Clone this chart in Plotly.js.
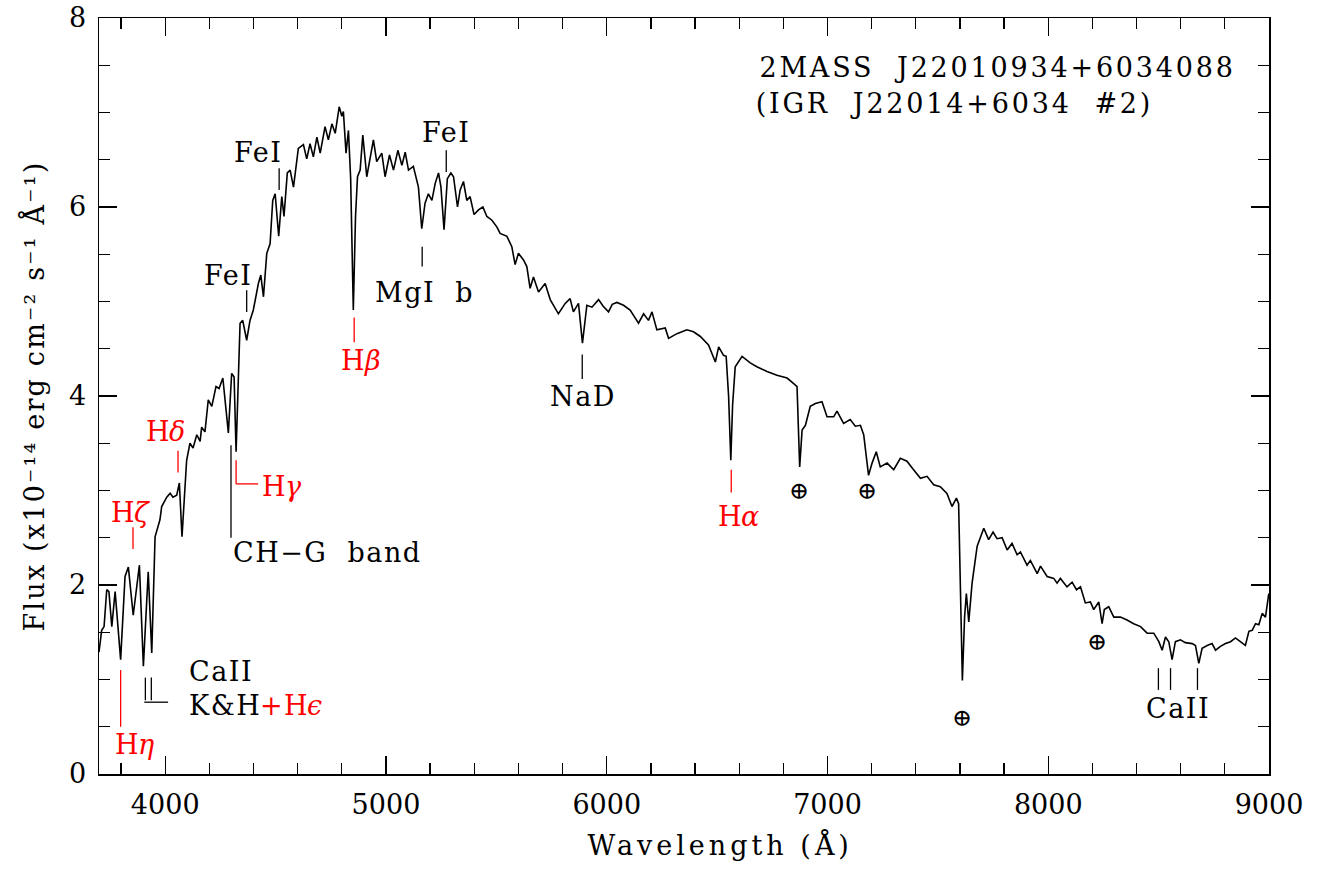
<!DOCTYPE html>
<html>
<head>
<meta charset="utf-8">
<script src="https://cdn.plot.ly/plotly-3.0.1.min.js"></script>
<style>
html,body{margin:0;padding:0;background:#fff;}
text.annotation-text{letter-spacing:1.5px;}
g.annotation[data-index="0"] text.annotation-text,
g.annotation[data-index="1"] text.annotation-text{letter-spacing:2.8px;}
g.annotation[data-index="2"] text.annotation-text{letter-spacing:4px;}
.g-ytitle text{letter-spacing:2.2px;}
</style>
</head>
<body>
<div id="chart" style="width:1322px;height:869px;"></div>
<script>
// Spectrum (wavelength in Å, flux in 1e-14 erg cm^-2 s^-1 Å^-1)
const wavelength = [
3700,3712,3723,3735,3745,3758,3773,3798,3818,3833,3855,3883,3901,3923,3939,3954,3976,3984,4007,4022,
4035,4052,4064,4076,4097,4112,4126,4143,4158,4165,4180,4195,4211,4230,4244,4261,4286,4301,4312,4321,
4339,4351,4369,4384,4399,4422,4433,4445,4460,4475,4487,4498,4514,4528,4538,4553,4566,4581,4603,4626,
4641,4656,4671,4687,4702,4724,4739,4755,4770,4788,4800,4807,4819,4830,4840,4852,4862,4871,4883,4895,
4913,4928,4943,4958,4981,4996,5016,5034,5054,5072,5087,5102,5124,5147,5162,5177,5192,5208,5223,5238,
5249,5263,5278,5294,5306,5324,5336,5351,5366,5381,5399,5419,5439,5457,5480,5502,5517,5548,5570,5585,
5600,5623,5638,5653,5668,5691,5721,5744,5781,5812,5834,5849,5872,5890,5910,5933,5963,5984,6008,6025,
6046,6076,6106,6144,6167,6189,6205,6227,6265,6280,6318,6363,6393,6424,6461,6492,6507,6529,6541,6552,
6562,6570,6582,6613,6650,6680,6726,6771,6817,6847,6862,6874,6885,6900,6922,6945,6975,6998,7028,7043,
7073,7103,7126,7149,7164,7186,7202,7221,7239,7270,7300,7330,7360,7390,7421,7451,7481,7511,7541,7564,
7584,7594,7611,7621,7629,7640,7655,7678,7708,7730,7750,7768,7791,7814,7836,7859,7874,7904,7919,7950,
7965,7995,8025,8040,8055,8085,8108,8128,8146,8168,8191,8206,8229,8244,8254,8274,8297,8327,8357,8387,
8418,8448,8478,8501,8516,8531,8546,8561,8576,8599,8621,8652,8667,8682,8697,8720,8742,8758,8780,8803,
8826,8848,8871,8893,8909,8924,8939,8954,8969,8984,8999
];
const flux = [
1.29,1.52,1.56,1.95,1.93,1.56,1.93,1.21,2.09,2.19,1.68,2.21,1.14,2.14,1.28,2.51,2.69,2.83,2.93,2.97,
2.93,2.95,3.08,2.51,3.32,3.50,3.45,3.59,3.52,3.67,3.62,3.96,3.89,4.10,4.08,4.19,3.61,4.24,4.20,3.41,
4.77,4.80,4.59,4.80,4.91,5.19,5.28,5.05,5.51,5.61,6.07,6.14,5.69,6.11,5.90,6.36,6.39,6.21,6.62,6.66,
6.51,6.67,6.53,6.74,6.57,6.85,6.71,6.88,6.78,7.06,6.96,7.01,6.57,6.81,6.30,4.91,5.90,6.32,6.39,6.76,
6.32,6.53,6.71,6.48,6.57,6.32,6.55,6.39,6.60,6.44,6.58,6.39,6.43,6.21,5.77,6.04,6.14,6.07,6.25,6.36,
6.21,5.76,6.30,6.36,6.32,6.00,6.18,6.27,6.07,6.11,5.92,5.97,6.00,5.90,5.86,5.79,5.72,5.69,5.58,5.39,
5.51,5.44,5.37,5.14,5.26,5.10,5.19,5.02,4.87,4.98,5.03,4.89,4.98,4.56,4.96,4.94,5.02,4.95,4.89,4.97,
4.99,4.96,4.91,4.77,4.87,4.80,4.89,4.70,4.72,4.61,4.66,4.70,4.68,4.63,4.54,4.36,4.52,4.43,4.42,4.00,
3.32,3.90,4.31,4.42,4.35,4.31,4.26,4.22,4.19,4.13,4.10,3.25,3.64,3.69,3.89,3.92,3.94,3.78,3.78,3.84,
3.71,3.75,3.68,3.69,3.59,3.16,3.29,3.41,3.25,3.29,3.22,3.34,3.31,3.22,3.13,3.15,3.06,3.04,2.97,2.83,
2.92,2.86,0.99,1.66,1.91,1.61,2.02,2.41,2.60,2.48,2.56,2.49,2.50,2.37,2.44,2.32,2.35,2.21,2.26,2.12,
2.20,2.09,2.07,2.02,2.07,1.98,2.03,1.95,1.98,1.81,1.82,1.74,1.82,1.59,1.74,1.77,1.66,1.66,1.63,1.59,
1.56,1.49,1.49,1.40,1.31,1.45,1.40,1.21,1.40,1.42,1.39,1.38,1.36,1.17,1.33,1.36,1.38,1.31,1.35,1.38,
1.40,1.44,1.40,1.36,1.51,1.52,1.59,1.58,1.70,1.66,1.91
];
const xTickVals = [4000,5000,6000,7000,8000,9000];
const xTickText = ["4000","5000","6000","7000","8000","9000"];
const yTickVals = [0,2,4,6,8];
const yTickText = ["0","2","4","6","8"];

const FONT = "DejaVu Serif";
const RED = "#ff0000";
const FS = 27;

function ann(x, y, text, color, xanchor, size, italic, xshift) {
  return {x: x, y: y, xref: 'x', yref: 'y', text: text, showarrow: false,
    xanchor: xanchor || 'center', yanchor: 'middle', borderpad: 0, xshift: xshift || 0,
    font: {family: FONT, size: size || FS, color: color || '#000', style: italic ? 'italic' : 'normal'}};
}
// "H" upright + Greek letter italic, joined at wavelength x
function hline(x, y, greek) {
  return [ann(x, y, 'H', RED, 'right', FS, false, 1), ann(x, y, greek, RED, 'left', FS, true, -3)];
}
function seg(x0, y0, x1, y1, color) {
  return {type: 'line', xref: 'x', yref: 'y', x0: x0, y0: y0, x1: x1, y1: y1,
    line: {color: color || '#000', width: 1.3}};
}

const annotations = [
  ann(7770, 7.48, '2MASS\u00A0\u00A0J22010934+6034088'),
  ann(7575, 7.10, '(IGR\u00A0\u00A0J22014+6034\u00A0\u00A0#2)'),
  {x: 0.5308, y: -0.094, xref: 'paper', yref: 'paper', text: 'Wavelength\u00A0(Å)', showarrow: false,
   xanchor: 'center', yanchor: 'middle', font: {family: FONT, size: FS, color: '#000'}},
  ann(4421, 6.58, 'FeI'),
  ann(5273, 6.79, 'FeI'),
  ann(4285, 5.28, 'FeI'),
  ann(5173, 5.10, 'MgI\u00A0\u00A0b'),
  ann(5893, 3.99, 'NaD'),
  ann(6877, 2.99, '⊕', '#000', 'center', 24),
  ann(7185, 2.99, '⊕', '#000', 'center', 24),
  ann(7615, 0.59, '⊕', '#000', 'center', 24),
  ann(8227, 1.40, '⊕', '#000', 'center', 24),
  ann(8590, 0.69, 'CaII'),
  ann(4303, 2.34, 'CH\u2212G\u00A0\u00A0band', '#000', 'left'),
  ann(4103, 1.09, 'CaII', '#000', 'left'),
  ann(4103, 0.73, 'K&H', '#000', 'left'),
  ann(4652, 0.73, '+H', RED, 'right', FS, false, 1),
  ann(4652, 0.73, 'ϵ', RED, 'left', FS, true, -3)
].concat(
  hline(4910, 4.38, 'β'),
  hline(6619, 2.73, 'α'),
  hline(4552, 3.04, 'γ'),
  hline(4026, 3.62, 'δ'),
  hline(3868, 2.77, 'ζ'),
  hline(3886, 0.31, 'η')
);

const shapes = [
  seg(4516, 6.41, 4516, 6.18),
  seg(5273, 6.60, 5273, 6.37),
  seg(4369, 5.12, 4369, 4.89),
  seg(5164, 5.58, 5164, 5.37),
  seg(4856, 4.83, 4856, 4.57, RED),
  seg(5889, 4.44, 5889, 4.18),
  seg(6564, 3.22, 6564, 2.98, RED),
  seg(8499, 1.12, 8499, 0.89),
  seg(8554, 1.12, 8554, 0.89),
  seg(8676, 1.12, 8676, 0.89),
  seg(4321, 3.32, 4321, 3.07, RED),
  seg(4321, 3.07, 4421, 3.07, RED),
  seg(4298, 3.48, 4298, 2.50),
  seg(4058, 3.42, 4058, 3.19, RED),
  seg(3854, 2.61, 3854, 2.38, RED),
  seg(3910, 1.02, 3910, 0.78),
  seg(3937, 1.02, 3937, 0.78),
  seg(3905, 0.76, 4013, 0.76),
  seg(3798, 1.10, 3798, 0.50, RED)
];

const trace = {x: wavelength, y: flux, type: 'scatter', mode: 'lines',
  line: {color: '#000', width: 1.6}, hoverinfo: 'skip', showlegend: false};

const axisCommon = {
  showline: true, linecolor: '#000', linewidth: 1.5, mirror: 'allticks',
  ticks: 'inside', ticklen: 18, tickwidth: 1.3, tickcolor: '#000',
  showgrid: false, zeroline: false, ticklabelstandoff: 6,
  tickfont: {family: FONT, size: FS, color: '#000'},
};

const layout = {
  width: 1322, height: 869,
  margin: {l: 99, r: 53, t: 18, b: 95},
  paper_bgcolor: '#fff', plot_bgcolor: '#fff',
  font: {family: FONT, color: '#000'},
  showlegend: false,
  xaxis: Object.assign({}, axisCommon, {
    range: [3700, 9000], tickmode: 'array', tickvals: xTickVals, ticktext: xTickText,
    minor: {dtick: 200, tick0: 0, ticks: 'inside', ticklen: 11, tickwidth: 1.3, tickcolor: '#000', showgrid: false}
  }),
  yaxis: Object.assign({}, axisCommon, {
    range: [0, 8], tickmode: 'array', tickvals: yTickVals, ticktext: yTickText,
    minor: {dtick: 0.5, tick0: 0, ticks: 'inside', ticklen: 11, tickwidth: 1.3, tickcolor: '#000', showgrid: false},
    title: {text: 'Flux\u00A0(x10\u207B\u00B9\u2074 erg\u00A0cm\u207B\u00B2\u00A0s\u207B\u00B9\u00A0Å\u207B\u00B9)', font: {family: FONT, size: FS, color: '#000'}, standoff: 16}
  }),
  annotations: annotations,
  shapes: shapes
};

Plotly.newPlot('chart', [trace], layout, {displayModeBar: false, staticPlot: true});
</script>
</body>
</html>
